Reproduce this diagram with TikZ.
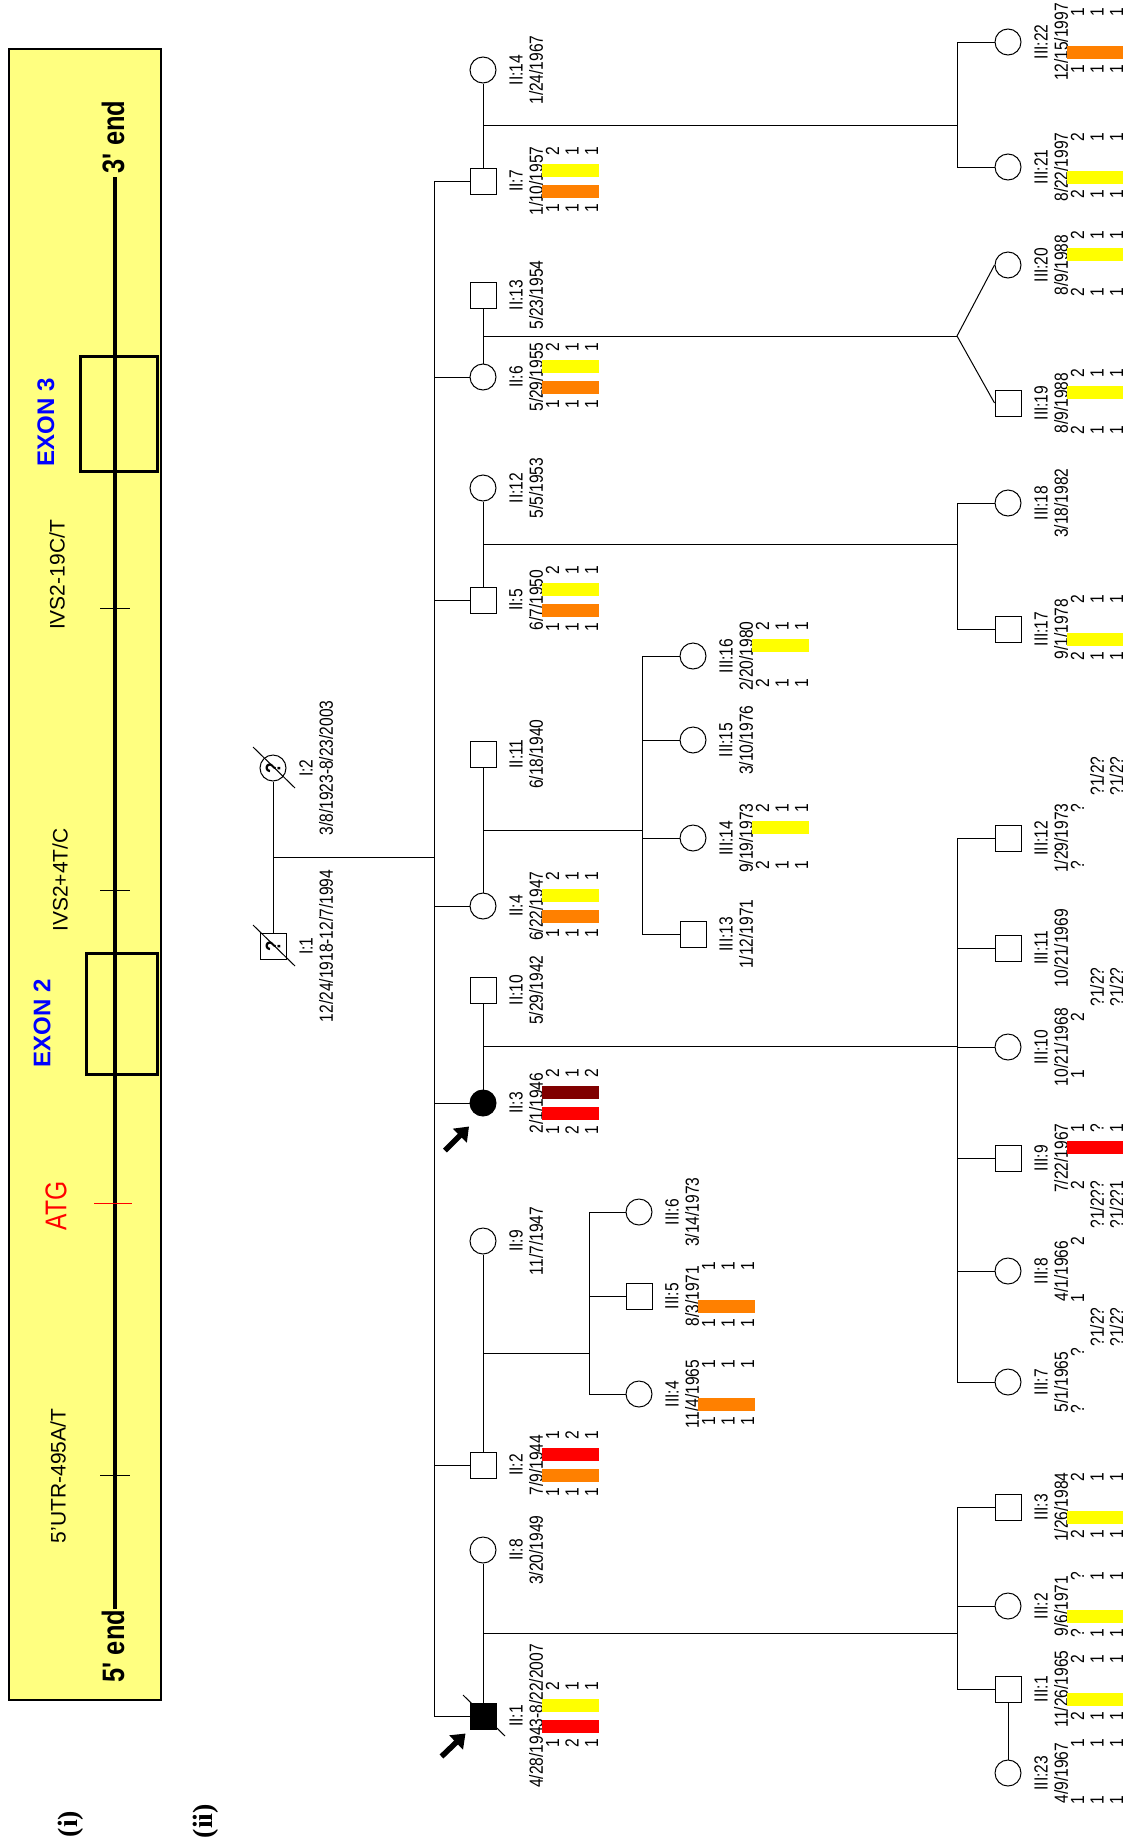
\documentclass[tikz,border=0pt]{standalone}
\usepackage{fontspec}
\setmainfont{Liberation Sans}
\newfontfamily\narrowfont[FakeStretch=0.82]{Liberation Sans}
\newfontfamily\tagfont{Liberation Serif}
\usetikzlibrary{calc,arrows.meta}

\definecolor{panelyellow}{HTML}{FFFF80}
\definecolor{hapyellow}{HTML}{FFFF00}
\definecolor{haporange}{HTML}{FF8000}
\definecolor{hapred}{HTML}{FF0000}
\definecolor{hapdark}{HTML}{800000}

% one individual: symbol, id label and date
\newcommand{\ind}[6][]{%
  \node[#2] (#3) at (#4) {#1};
  \node[idtext] (#3-id) at ($(#3)+(33,0)$) {#5};
  \node[idtext] (#3-dob) at ($(#3)+(53,0)$) {#6};}
% alleles of the three markers, upper and lower haplotype
\newcommand{\geno}[3]{%
  \foreach \a [count=\k] in {#2} \node[allele] (#1-t\k) at ($(#1)+({50+19.5*\k},-30)$) {\a};
  \foreach \a [count=\k] in {#3} \node[allele] (#1-b\k) at ($(#1)+({50+19.5*\k},27)$) {\a};}
\newcommand{\unphased}[2]{%
  \foreach \k in {2,3} \node[allele] (#1-u\k) at ($(#1)+({50+19.5*\k},#2)$) {?1/2?};}
\newcommand{\hapup}[2]{\fill[#2] ($(#1)+(59,-17)$) rectangle ($(#1)+(116,-4)$);}
\newcommand{\haplow}[2]{\fill[#2] ($(#1)+(59,4)$) rectangle ($(#1)+(116,17)$);}
\newcommand{\deceased}[1]{\draw ([shift={(-20,-21)}]#1.center) -- ([shift={(22,20)}]#1.center);}

\begin{document}
\begin{tikzpicture}[x=1pt, y=-1pt, line width=1pt,
  male/.style={draw, minimum size=26pt, inner sep=0pt, fill=white, font=\narrowfont\bfseries\fontsize{21}{23}\selectfont},
  female/.style={male, circle},
  affected/.style={fill=black},
  idtext/.style={rotate=90, inner sep=0pt, font=\narrowfont\fontsize{19}{21}\selectfont},
  allele/.style={idtext},
  proband/.style={line width=5.5pt, -{Triangle[length=13pt,width=19pt]}},
  genelabel/.style={rotate=90, inner sep=0pt, font=\fontsize{21}{23}\selectfont},
  exonlabel/.style={rotate=90, inner sep=0pt, text=blue, font=\bfseries\fontsize{24}{26}\selectfont},
  endlabel/.style={rotate=90, inner sep=0pt, font=\narrowfont\bfseries\fontsize{31}{33}\selectfont},
  exon/.style={draw, line width=3pt, inner sep=0pt},
  tag/.style={rotate=90, inner sep=0pt, font=\tagfont\bfseries\fontsize{28}{30}\selectfont}]
\fill[white] (0,0) rectangle (1123,1847);
\useasboundingbox (0,0) rectangle (1123,1847);

% (i) gene structure
\draw[line width=2pt, fill=panelyellow] (9,49) rectangle (161,1700);
\coordinate (end3) at (115,177);
\coordinate (end5) at (115,1609);
\draw[line width=3.5pt] (end5) -- (end3);
\node[exon, minimum width=77pt, minimum height=115pt] (exon3) at (118.5,413.5) {};
\node[exon, minimum width=71pt, minimum height=121pt] (exon2) at (121.5,1013.5) {};
\foreach \y in {608,890,1475} \draw (100,\y) -- (130,\y);
\draw[hapred] (94,1203) -- (132,1203);
\node[endlabel] (lab3) at (113,137) {3' end};
\node[endlabel] (lab5) at (113,1646) {5' end};
\node[exonlabel] (labex3) at (46,422) {EXON 3};
\node[exonlabel] (labex2) at (42,1023) {EXON 2};
\node[rotate=90, inner sep=0pt, text=hapred, font=\narrowfont\fontsize{30}{32}\selectfont] (labatg) at (56,1206) {ATG};
\node[genelabel] (labivs19) at (57,575) {IVS2-19C/T};
\node[genelabel] (labivs4) at (60,880) {IVS2+4T/C};
\node[genelabel] (labutr) at (58,1476) {5'UTR-495A/T};
\node[tag] (tagi) at (71,1824) {(i)};
\node[tag] (tagii) at (206,1821) {(ii)};

% (ii) pedigree
\coordinate (colII) at (434,0);
\coordinate (colA) at (589,0);
\coordinate (colB) at (642,0);
\coordinate (colC) at (957,0);

% generation I
\ind[\rotatebox{90}{?}]{male}{I1}{273,946}{I:1}{12/24/1918-12/7/1994}
\ind[\rotatebox{90}{?}]{female}{I2}{273,768}{I:2}{3/8/1923-8/23/2003}
\deceased{I1}
\deceased{I2}

% generation II
\ind{male, affected}{II1}{483,1716}{II:1}{4/28/1943-8/22/2007}
\ind{female}{II8}{483,1550}{II:8}{3/20/1949}
\ind{male}{II2}{483,1465}{II:2}{7/9/1944}
\ind{female}{II9}{483,1241}{II:9}{11/7/1947}
\ind{female, affected}{II3}{483,1103}{II:3}{2/1/1946}
\ind{male}{II10}{483,990}{II:10}{5/29/1942}
\ind{female}{II4}{483,906}{II:4}{6/22/1947}
\ind{male}{II11}{483,754}{II:11}{6/18/1940}
\ind{male}{II5}{483,600}{II:5}{6/7/1950}
\ind{female}{II12}{483,488}{II:12}{5/5/1953}
\ind{female}{II6}{483,377}{II:6}{5/29/1955}
\ind{male}{II13}{483,295}{II:13}{5/23/1954}
\ind{male}{II7}{483,181}{II:7}{1/10/1957}
\ind{female}{II14}{483,70}{II:14}{1/24/1967}
\deceased{II1}

% generation III
\ind{female}{III4}{639,1394}{III:4}{11/4/1965}
\ind{male}{III5}{639,1296}{III:5}{8/3/1971}
\ind{female}{III6}{639,1212}{III:6}{3/14/1973}
\ind{male}{III13}{693,934}{III:13}{1/12/1971}
\ind{female}{III14}{693,838}{III:14}{9/19/1973}
\ind{female}{III15}{693,740}{III:15}{3/10/1976}
\ind{female}{III16}{693,656}{III:16}{2/20/1980}
\ind{female}{III23}{1008,1773}{III:23}{4/9/1967}
\ind{male}{III1}{1008,1689}{III:1}{11/26/1965}
\ind{female}{III2}{1008,1606}{III:2}{9/6/1971}
\ind{male}{III3}{1008,1507}{III:3}{1/26/1984}
\ind{female}{III7}{1008,1382}{III:7}{5/1/1965}
\ind{female}{III8}{1008,1271}{III:8}{4/1/1966}
\ind{male}{III9}{1008,1158}{III:9}{7/22/1967}
\ind{female}{III10}{1008,1047}{III:10}{10/21/1968}
\ind{male}{III11}{1008,948}{III:11}{10/21/1969}
\ind{male}{III12}{1008,838}{III:12}{1/29/1973}
\ind{male}{III17}{1008,629}{III:17}{9/1/1978}
\ind{female}{III18}{1008,503}{III:18}{3/18/1982}
\ind{male}{III19}{1008,403}{III:19}{8/9/1988}
\ind{female}{III20}{1008,265}{III:20}{8/9/1988}
\ind{female}{III21}{1008,167}{III:21}{8/22/1997}
\ind{female}{III22}{1008,42}{III:22}{12/15/1997}

% lines of descent
\draw (I1) -- (I2);
\coordinate (cI) at ($(I1)!0.5!(I2)$);
\draw (cI) -- (cI -| colII);
\draw (II7.west -| colII) -- (II1.west -| colII);
\foreach \c in {II1,II2,II3,II4,II5,II6,II7} \draw (\c.west) -- (\c.west -| colII);
\foreach \a/\b/\n in {II1/II8/c1,II2/II9/c2,II3/II10/c3,II4/II11/c4,II5/II12/c5,II6/II13/c6,II7/II14/c7} {
  \draw (\a) -- (\b);
  \coordinate (\n) at ($(\a)!0.5!(\b)$);}
\draw (c1) -- (c1 -| colC);
\draw (c2) -- (c2 -| colA);
\draw (c3) -- (c3 -| colC);
\draw (c4) -- (c4 -| colB);
\draw (c5) -- (c5 -| colC);
\draw (c6) -- (c6 -| colC);
\draw (c7) -- (c7 -| colC);
\draw (III3.west -| colC) -- (III1.west -| colC);
\draw (III6.west -| colA) -- (III4.west -| colA);
\draw (III12.west -| colC) -- (III7.west -| colC);
\draw (III16.west -| colB) -- (III13.west -| colB);
\draw (III18.west -| colC) -- (III17.west -| colC);
\draw (III22.west -| colC) -- (III21.west -| colC);
\foreach \c in {III1,III2,III3,III7,III8,III9,III10,III11,III12,III17,III18,III21,III22} \draw (\c.west) -- (\c.west -| colC);
\foreach \c in {III4,III5,III6} \draw (\c.west) -- (\c.west -| colA);
\foreach \c in {III13,III14,III15,III16} \draw (\c.west) -- (\c.west -| colB);
\draw (c6 -| colC) -- (III19.west);
\draw (c6 -| colC) -- (III20.west);
\draw (III1) -- (III23);

% probands
\draw[proband] ([shift={(-28,27)}]II1.south west) -- ([shift={(-4,4)}]II1.south west);
\draw[proband] ([shift={(-38,34)}]II3.south) -- ([shift={(-14,10)}]II3.south);

% haplotype bars
\hapup{II1}{hapyellow} \haplow{II1}{hapred}
\hapup{II2}{hapred} \haplow{II2}{haporange}
\hapup{II3}{hapdark} \haplow{II3}{hapred}
\hapup{II4}{hapyellow} \haplow{II4}{haporange}
\hapup{II5}{hapyellow} \haplow{II5}{haporange}
\hapup{II6}{hapyellow} \haplow{II6}{haporange}
\hapup{II7}{hapyellow} \haplow{II7}{haporange}
\haplow{III1}{hapyellow}
\haplow{III2}{hapyellow}
\haplow{III3}{hapyellow}
\haplow{III4}{haporange}
\haplow{III5}{haporange}
\hapup{III9}{hapred}
\hapup{III14}{hapyellow}
\hapup{III16}{hapyellow}
\haplow{III17}{hapyellow}
\hapup{III19}{hapyellow}
\hapup{III20}{hapyellow}
\haplow{III21}{hapyellow}
\haplow{III22}{haporange}

% alleles
\geno{II1}{2,1,1}{1,2,1}
\geno{II2}{1,2,1}{1,1,1}
\geno{II3}{2,1,2}{1,2,1}
\geno{II4}{2,1,1}{1,1,1}
\geno{II5}{2,1,1}{1,1,1}
\geno{II6}{2,1,1}{1,1,1}
\geno{II7}{2,1,1}{1,1,1}
\geno{III23}{1,1,1}{1,1,1}
\geno{III1}{2,1,1}{2,1,1}
\geno{III2}{?,1,1}{?,1,1}
\geno{III3}{2,1,1}{2,1,1}
\geno{III4}{1,1,1}{1,1,1}
\geno{III5}{1,1,1}{1,1,1}
\geno{III7}{?}{?}
\unphased{III7}{-55}
\geno{III8}{2}{1}
\unphased{III8}{-62}
\geno{III9}{1,?,1}{2,?,1}
\geno{III10}{2}{1}
\unphased{III10}{-60}
\geno{III12}{?}{?}
\unphased{III12}{-62}
\geno{III14}{2,1,1}{2,1,1}
\geno{III16}{2,1,1}{2,1,1}
\geno{III17}{2,1,1}{2,1,1}
\geno{III19}{2,1,1}{2,1,1}
\geno{III20}{2,1,1}{2,1,1}
\geno{III21}{2,1,1}{2,1,1}
\geno{III22}{1,1,1}{1,1,1}
\end{tikzpicture}
\end{document}
